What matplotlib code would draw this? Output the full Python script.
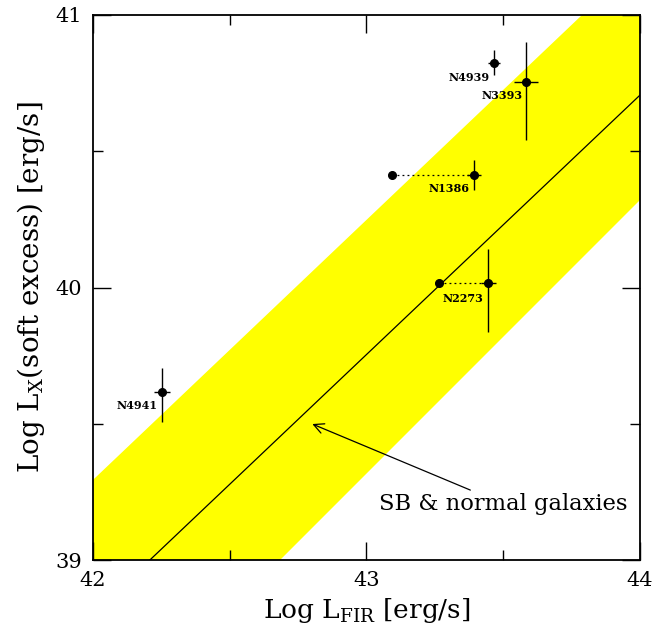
import matplotlib
matplotlib.use("Agg")
import matplotlib.pyplot as plt
from matplotlib.ticker import MultipleLocator
import numpy as np

plt.rcParams['font.family'] = ['DejaVu Serif']
plt.rcParams['mathtext.fontset'] = 'dejavuserif'

# Galaxies
names = ["N4939", "N3393", "N1386", "N2273", "N4941"]
log_lfir = [43.466, 43.584, 43.394, 43.445, 42.253]
log_lx = [40.825, 40.755, 40.412, 40.015, 39.618]
xerr = [0.022, 0.043, 0.026, 0.027, 0.030]
yerr_low = [0.047, 0.213, 0.055, 0.177, 0.110]
yerr_high = [0.047, 0.147, 0.055, 0.125, 0.086]
label_x = [43.375, 43.494, 43.303, 43.354, 42.162]
label_y = [40.770, 40.704, 40.364, 39.960, 39.566]

# Alternative (lower) L_FIR values joined with dotted lines
alt_names = ["N1386", "N2273"]
alt_lfir = [43.093, 43.265]
alt_lx = [40.412, 40.015]

# SB & normal galaxies relation and its band
rel_x = [42.208, 44.0]
rel_y = [39.0, 40.706]
band_upper_x = [42.0, 43.788]
band_upper_y = [39.294, 41.0]
band_lower_x = [42.684, 44.0]
band_lower_y = [39.0, 40.321]

fig = plt.figure(figsize=(6.67, 6.30), dpi=100)
ax = fig.add_axes([0.1394, 0.1111, 0.8201, 0.8651])

# band polygon
xs = np.linspace(42, 44, 400)
su = (band_upper_y[1] - band_upper_y[0]) / (band_upper_x[1] - band_upper_x[0])
up = band_upper_y[0] + su * (xs - band_upper_x[0])
sl = (band_lower_y[1] - band_lower_y[0]) / (band_lower_x[1] - band_lower_x[0])
lo = band_lower_y[0] + sl * (xs - band_lower_x[0])
ax.fill_between(xs, lo, up, color='#ffff00', lw=0, zorder=1)
ax.plot(rel_x, rel_y, color='black', lw=0.9, zorder=2)

# dotted connections
for n, ax0, ay in zip(alt_names, alt_lfir, alt_lx):
    i = names.index(n)
    ax.plot([ax0, log_lfir[i]], [ay, log_lx[i]], color='black', lw=0.9,
            ls=(0, (1.5, 2.5)), zorder=3)
ax.plot(alt_lfir, alt_lx, 'o', color='black', ms=5.5, zorder=4)

ax.errorbar(log_lfir, log_lx, xerr=xerr, yerr=[yerr_low, yerr_high],
            fmt='o', color='black', ms=5.5, elinewidth=1.0, capsize=0, zorder=4)

for n, lx, ly in zip(names, label_x, label_y):
    ax.text(lx, ly, n, ha='center', va='center', fontsize=8,
            fontweight='bold', zorder=5)

ax.annotate("SB & normal galaxies", xy=(42.802, 39.499), xytext=(43.046, 39.206),
            ha='left', va='center', fontsize=16.3,
            arrowprops=dict(arrowstyle='->', color='black', lw=0.9,
                            shrinkA=0, shrinkB=0, mutation_scale=18),
            zorder=5)

ax.set_xlim(42, 44)
ax.set_ylim(39, 41)
ax.xaxis.set_major_locator(MultipleLocator(1))
ax.xaxis.set_minor_locator(MultipleLocator(0.5))
ax.yaxis.set_major_locator(MultipleLocator(1))
ax.yaxis.set_minor_locator(MultipleLocator(0.5))
ax.tick_params(which='both', direction='in', top=True, right=True, width=1.0)
ax.tick_params(which='major', length=13, labelsize=15, pad=8)
ax.tick_params(which='minor', length=7)
for s in ax.spines.values():
    s.set_linewidth(1.3)

ax.set_xlabel(r"Log L$_{\rm FIR}$ [erg/s]", fontsize=19, labelpad=4)
ax.set_ylabel(r"Log L$_{\rm X}$(soft excess) [erg/s]", fontsize=20, labelpad=6)

fig.savefig("out.png", dpi=100)
